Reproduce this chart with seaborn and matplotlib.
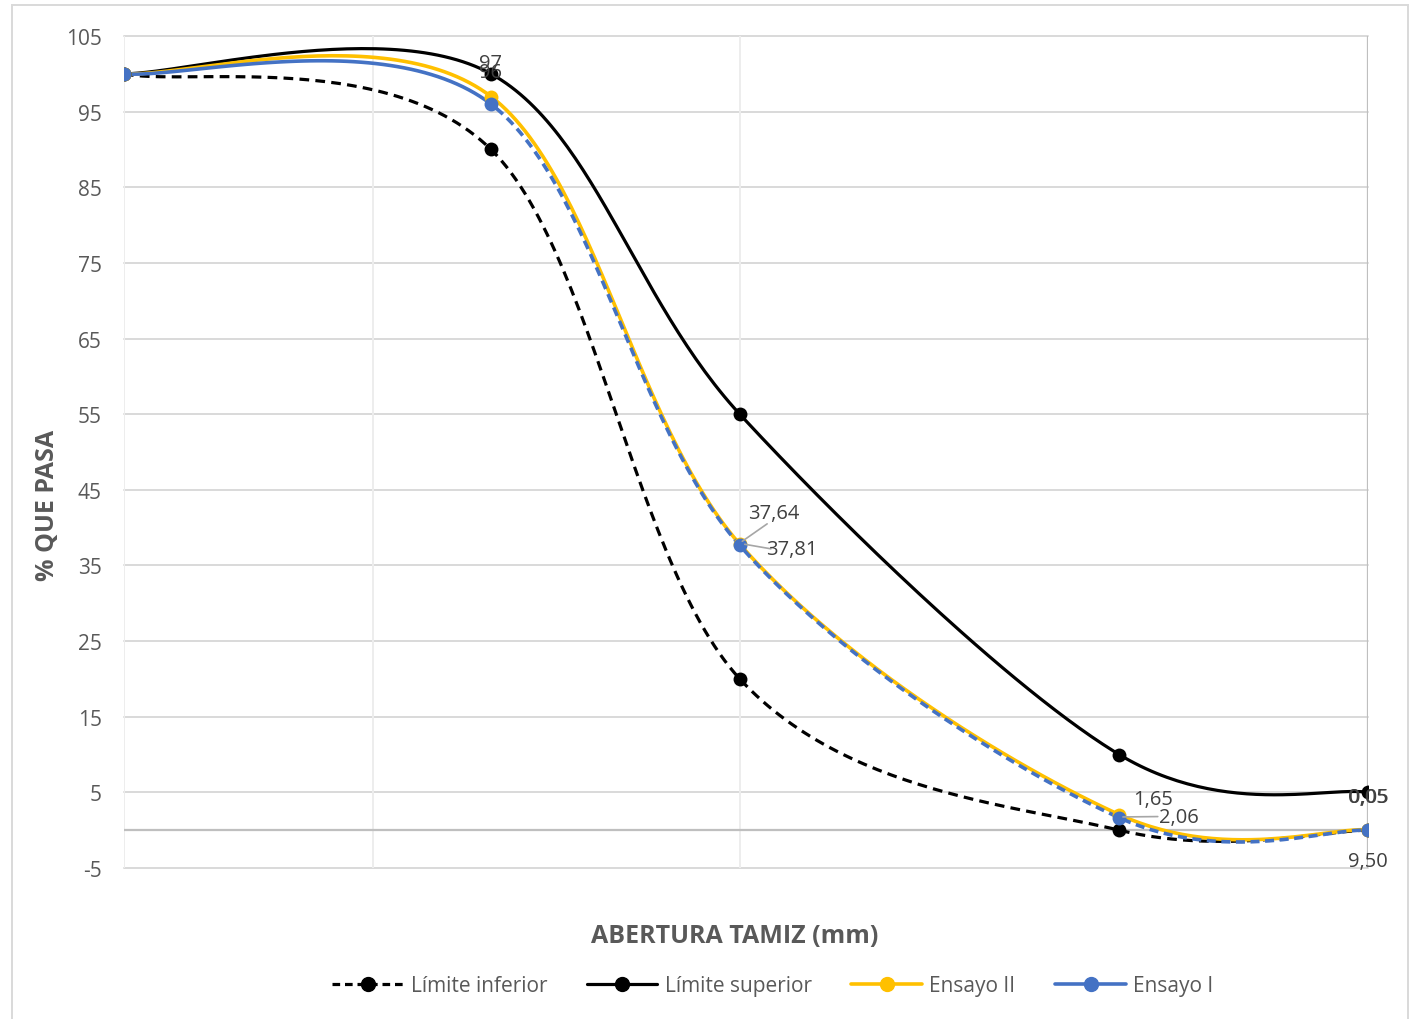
import numpy as np
import pandas as pd
import matplotlib
matplotlib.use("Agg")
import matplotlib.pyplot as plt
from matplotlib.lines import Line2D
from matplotlib.patches import Rectangle
import seaborn as sns

# === Data ===
# sieves: 25, 19, 9.5, 4.75, 2.36 mm; the x axis has no labels, so these are
# the horizontal positions of the sieves
tamices = ["25", "19", "9,5", "4,75", "2,36"]
posicion = [0.0, 2.95, 4.95, 8.0, 10.0]
limite_inferior = [100, 90, 20, 0, 0]
limite_superior = [100, 100, 55, 10, 5]
ensayo_ii = [100, 97, 37.81, 2.06, 0.05]
ensayo_i = [100, 96, 37.64, 1.65, 0.0]

# data labels as they appear on the chart (text, x, y, point x, point y)
etiquetas = [
    ("97", 2.95, 101.4, None, None),
    ("96", 2.95, 100.3, None, None),
    ("37,64", 5.22, 42.0, 4.97, 38.2),
    ("37,81", 5.37, 37.2, 4.99, 37.8),
    ("1,65", 8.27, 4.1, None, None),
    ("2,06", 8.48, 1.8, 8.03, 1.75),
    ("0,05", 10.0, 4.4, None, None),
    ("0,05", 10.004, 4.4, None, None),
    ("9,50", 10.0, -4.1, None, None),
]

GRIS_TXT = "#595959"
AMARILLO = "#FFC000"
AZUL = "#4472C4"


def suavizar(x, y, n=60):
    """Excel-style smoothed line (Catmull-Rom via cubic Bezier)."""
    p = np.column_stack([x, y]).astype(float)
    out = []
    for i in range(len(p) - 1):
        p0 = p[i - 1] if i > 0 else p[i]
        p1, p2 = p[i], p[i + 1]
        p3 = p[i + 2] if i + 2 < len(p) else p[i + 1]
        c1 = p1 + (p2 - p0) / 6.0
        c2 = p2 - (p3 - p1) / 6.0
        t = np.linspace(0, 1, n)[:, None]
        seg = ((1 - t) ** 3) * p1 + 3 * ((1 - t) ** 2) * t * c1 \
            + 3 * (1 - t) * t ** 2 * c2 + t ** 3 * p2
        out.append(seg if i == 0 else seg[1:])
    s = np.vstack(out)
    return pd.DataFrame({"x": s[:, 0], "y": s[:, 1], "seg": np.repeat(
        np.arange(len(p) - 1), [n] + [n - 1] * (len(p) - 2))})


sns.set_theme(style="white")
plt.rcParams["font.family"] = ["Open Sans", "DejaVu Sans"]
plt.rcParams["lines.scale_dashes"] = False
plt.rcParams["axes.unicode_minus"] = False

fig = plt.figure(figsize=(14.1, 10.2), dpi=100)
ax = fig.add_axes([124 / 1410, 1 - 869 / 1020, (1368 - 124) / 1410, (869 - 37) / 1020])

# === Grid ===
yticks = np.arange(-5, 106, 10)
for yv in yticks:
    ax.axhline(yv, color="#d9d9d9", lw=1.4, zorder=0, clip_on=False)
for xv in [0.0, 2.0, 4.95]:
    ax.axvline(xv, color="#ededed", lw=1.4, zorder=0)
ax.axhline(0, color="#bfbfbf", lw=1.6, zorder=1)
ax.axvline(10, color="#bfbfbf", lw=1.6, zorder=1)

# === Curves ===
lw_k = 2.3
lw_c = 2.6
ms = 10

inf = suavizar(posicion, limite_inferior)
sup = suavizar(posicion, limite_superior)
e2 = suavizar(posicion, ensayo_ii)
e1 = suavizar(posicion, ensayo_i)

sns.lineplot(data=inf, x="x", y="y", sort=False, estimator=None, color="black",
             lw=lw_k, dashes=False, ax=ax, zorder=3)
ax.lines[-1].set_dashes((7.0, 4.5))
sns.lineplot(data=sup, x="x", y="y", sort=False, estimator=None, color="black",
             lw=lw_k, ax=ax, zorder=3)
sns.lineplot(data=e2, x="x", y="y", sort=False, estimator=None, color=AMARILLO,
             lw=lw_c, ax=ax, zorder=4)
sns.lineplot(data=e1[e1["seg"] == 0], x="x", y="y", sort=False, estimator=None,
             color=AZUL, lw=lw_c, ax=ax, zorder=5)
sns.lineplot(data=e1[e1["seg"] > 0], x="x", y="y", sort=False, estimator=None,
             color=AZUL, lw=lw_c, ax=ax, zorder=5)
ax.lines[-1].set_dashes((6.5, 4.0))

for vals, col, z in [(limite_inferior, "black", 6), (limite_superior, "black", 6),
                     (ensayo_ii, AMARILLO, 7), (ensayo_i, AZUL, 8)]:
    sns.scatterplot(x=posicion, y=vals, color=col, s=ms ** 2, edgecolor=col,
                    linewidth=0, ax=ax, zorder=z, legend=False)

# === Data labels ===
for txt, tx, ty, px, py in etiquetas:
    if px is not None:
        ax.plot([tx - 0.17 if txt != "37,64" else tx - 0.05, px],
                [ty if txt != "37,64" else ty - 1.5, py],
                color="#a6a6a6", lw=1.2, zorder=9)
    ax.text(tx, ty, txt, ha="center", va="center", fontsize=14.5,
            color="#404040", zorder=10)

# === Axes ===
ax.set_xlim(0, 10)
ax.set_ylim(-5, 105)
ax.set_yticks(yticks)
ax.set_xticks([])
ax.tick_params(axis="y", length=0, pad=16, labelsize=15, labelcolor=GRIS_TXT)
ax.set_xlabel("")
ax.set_ylabel("")
for sp in ax.spines.values():
    sp.set_visible(False)

fig.text(48 / 1410, 1 - 505 / 1020, "% QUE PASA", rotation=90, ha="center",
         va="center", fontsize=18, fontweight="bold", color=GRIS_TXT)
fig.text(735 / 1410, 1 - 937 / 1020, "ABERTURA TAMIZ (mm)", ha="center",
         va="center", fontsize=18, fontweight="bold", color=GRIS_TXT)

# === Legend ===
handles = [
    Line2D([], [], color="black", lw=lw_k, ls=(0, (5.5, 3.5)), marker="o", markersize=ms),
    Line2D([], [], color="black", lw=lw_k, marker="o", markersize=ms),
    Line2D([], [], color=AMARILLO, lw=lw_c, marker="o", markersize=ms),
    Line2D([], [], color=AZUL, lw=lw_c, marker="o", markersize=ms),
]
labels = ["Límite inferior", "Límite superior", "Ensayo II", "Ensayo I"]
leg = fig.legend(handles, labels, loc="center", bbox_to_anchor=(773 / 1410, 1 - 987 / 1020),
                 ncol=4, frameon=False, fontsize=15, handlelength=3.4,
                 handletextpad=0.35, columnspacing=1.9)
for t in leg.get_texts():
    t.set_color(GRIS_TXT)

# === Chart border ===
fig.patches.append(Rectangle((12 / 1410, -0.01), 1396 / 1410, 1.01 - 6 / 1020,
                             transform=fig.transFigure, fill=False,
                             edgecolor="#d9d9d9", lw=1.4))

fig.savefig("out.png", dpi=100)
plt.close(fig)
